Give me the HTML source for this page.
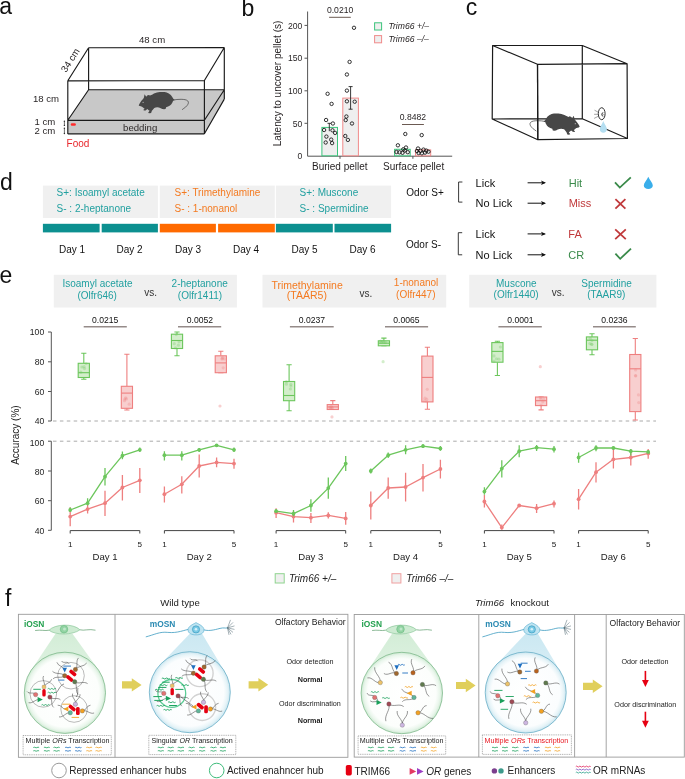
<!DOCTYPE html>
<html><head><meta charset="utf-8">
<style>
html,body{margin:0;padding:0;background:#fff;}
svg{display:block;font-family:"Liberation Sans",sans-serif;will-change:transform;}
text{font-family:"Liberation Sans",sans-serif;}
</style></head>
<body>
<svg width="685" height="779" viewBox="0 0 685 779">
<rect width="685" height="779" fill="#fff"/>

<!-- ============ PANEL A ============ -->
<g id="pa">
<text x="-0.7" y="14.4" font-size="23" fill="#111">a</text>
<g fill="#c8c8c8" stroke="none">
<polygon points="67.8,120.3 88.6,89.7 224.3,89.7 204.4,120.3"/>
<rect x="67.8" y="120.3" width="136.6" height="13.5"/>
<polygon points="204.4,120.3 224.3,89.7 224.3,99.1 204.4,133.8"/>
</g>
<g id="mouseA">
<path fill="#474747" d="M138.7,105.2 C139.4,103.6 140.4,102.2 141.4,100.8 C142.2,99.8 143,98.8 143.8,97.9 L144.6,94.3 L146.2,96.7 L147.2,95.5 L148.7,94.9 L150,95.6 C151,95.2 151.8,94.8 152.5,94.4 C154.5,93.2 156.5,92.6 158.4,92.3 C160,92 161.6,92 163,92.1 C165,92.2 166.6,92.5 167.7,93 C169.3,93.7 170.4,94.6 171.2,95.6 C172.2,96.8 172.8,97.8 173.1,98.6 L174.8,100 L173,100.8 C172.9,101.6 172.7,102.1 172.4,102.6 C171.8,103.8 171,104.8 170,105.5 C168.8,106.3 167.4,106.8 166.1,107.3 L165.6,109 L164,109.3 L162.4,109.1 L160.7,108.2 C159.5,107.7 158.4,107.3 157.2,107.3 C156.2,107.3 155.2,107.6 154.3,107.9 C153.4,108.9 152.6,109.9 151.9,110.8 L151.1,113.1 L149.6,113.3 L148.1,112.9 L149,111.5 L149.6,110.8 C148.8,110.2 148,109.6 147.3,109 L145.6,110.4 L144.2,110.6 L143.2,110 L144.6,108.8 C143.8,108 142.9,107.3 142,106.7 C141.2,106.5 140.4,106.3 139.7,106.1 C139.2,105.9 138.9,105.6 138.7,105.2 Z"/>
<path fill="none" stroke="#474747" stroke-width="0.75" d="M172.4,100.2 C175.5,99.6 178.5,99.2 181.1,99.3 C184,99.4 186.5,99.6 187.8,101 C189.2,102.6 188,104.8 185.7,107 C184.4,108.1 183,108.8 182.1,109.7"/>
<circle cx="143.1" cy="102.3" r="0.6" fill="#bbb"/>
</g>
<g stroke="#1a1a1a" stroke-width="1.15" fill="none" stroke-linejoin="round">
<path d="M88.6,47.8 L224.3,47.5 M67.8,80.8 L204.4,80.5 M67.8,80.8 L88.6,47.8 M204.4,80.5 L224.3,47.5 M88.6,47.8 V89.7 M224.3,47.5 V99.1 M67.8,80.8 V133.9 M204.4,80.5 V133.9 M67.8,120.3 H204.4 M67.8,120.3 L88.6,89.7 M88.6,89.7 H224.3 M204.4,120.3 L224.3,89.7 M67.8,133.8 H204.4 M204.4,133.8 L224.3,99.1"/>
</g>
<g font-size="9.6" fill="#231f20">
<text x="152.1" y="42.9" text-anchor="middle">48 cm</text>
<text transform="translate(70.2,60.2) rotate(-57.5)" x="0" y="3.4" text-anchor="middle">34 cm</text>
<text x="32.9" y="101.6">18 cm</text>
<text x="34.4" y="125.2">1 cm</text>
<text x="34.5" y="134.4">2 cm</text>
</g>
<path d="M64.4,121 V125.6 M64.4,128 V133.8" stroke="#333" stroke-width="0.7"/><g fill="#333"><circle cx="64.4" cy="121.2" r="0.7"/><circle cx="64.4" cy="125.4" r="0.7"/><circle cx="64.4" cy="128.3" r="0.7"/><circle cx="64.4" cy="133.5" r="0.7"/></g>
<path d="M72,124.6 H74.6" stroke="#ff2a2a" stroke-width="2.5" stroke-linecap="round"/>
<text x="66.6" y="147" font-size="10" fill="#e8262b">Food</text>
<text x="140.2" y="131.2" font-size="9.6" fill="#2e2a2a" text-anchor="middle">bedding</text>
</g>

<!-- ============ PANEL B ============ -->
<g id="pb">
<text x="241.5" y="16.4" font-size="23" fill="#111">b</text>
<g stroke="#555" stroke-width="1" fill="none">
<path d="M307.6,11.5 V156.2 H452.2"/>
<path d="M304.5,25.4 H307.6 M304.5,58.2 H307.6 M304.5,90.8 H307.6 M304.5,123.3 H307.6 M340,156.2 V158.8 M412.9,156.2 V158.8"/>
</g>
<g font-size="8.6" fill="#231f20" text-anchor="end">
<text x="302.3" y="28.6">200</text>
<text x="302.3" y="61.4">150</text>
<text x="302.3" y="94">100</text>
<text x="302.3" y="126.5">50</text>
<text x="302.3" y="159">0</text>
</g>
<text transform="translate(281.2,83.5) rotate(-90)" x="0" y="0" font-size="10" text-anchor="middle" fill="#231f20">Latency to uncover pellet (s)</text>
<g stroke-width="1" fill="#efefef">
<rect x="321.9" y="127.4" width="15.6" height="28.4" stroke="#3cc47c"/>
<rect x="342.8" y="98.1" width="15.6" height="57.7" stroke="#f08a8a"/>
<rect x="394.6" y="149.3" width="15.6" height="6.5" stroke="#3cc47c"/>
<rect x="415.5" y="149.9" width="15.2" height="5.9" stroke="#f08a8a"/>
</g>
<g stroke="#222" stroke-width="0.9" fill="none">
<path d="M329.3,123.3 V131.2 M327.5,123.3 H331.1"/>
<path d="M350.6,86.6 V109.2 M348.6,86.6 H352.6 M348.6,109.2 H352.6"/>
</g>
<g stroke="#111" stroke-width="0.85" fill="none">
<circle cx="327.6" cy="93.8" r="1.7"/><circle cx="331.6" cy="103.9" r="1.7"/><circle cx="326.1" cy="120" r="1.7"/><circle cx="332.9" cy="123.5" r="1.7"/><circle cx="324.1" cy="130" r="1.7"/><circle cx="332.5" cy="130.3" r="1.7"/><circle cx="335.1" cy="132.9" r="1.7"/><circle cx="326.4" cy="136.6" r="1.7"/><circle cx="331.2" cy="139.6" r="1.7"/><circle cx="325.7" cy="142.5" r="1.7"/><circle cx="332.1" cy="143.1" r="1.7"/>
<circle cx="354" cy="27.8" r="1.7"/><circle cx="349.6" cy="61.9" r="1.7"/><circle cx="346.9" cy="74.5" r="1.7"/><circle cx="346.9" cy="90.6" r="1.7"/><circle cx="346.9" cy="101.3" r="1.7"/><circle cx="354.7" cy="101.7" r="1.7"/><circle cx="346.4" cy="116.5" r="1.7"/><circle cx="345.7" cy="120.1" r="1.7"/><circle cx="352" cy="123.5" r="1.7"/><circle cx="345.3" cy="136" r="1.7"/><circle cx="347.9" cy="139.9" r="1.7"/>
<circle cx="405.3" cy="134" r="1.7"/><circle cx="397.9" cy="145.3" r="1.7"/><circle cx="406" cy="147.5" r="1.7"/><circle cx="396.5" cy="152" r="1.7"/><circle cx="399.5" cy="152.3" r="1.7"/><circle cx="402.5" cy="152.8" r="1.7"/><circle cx="404.8" cy="150.5" r="1.7"/><circle cx="407.8" cy="152.2" r="1.7"/><circle cx="403.3" cy="149.3" r="1.7"/>
<circle cx="421.7" cy="135.1" r="1.7"/><circle cx="418" cy="148.5" r="1.7"/><circle cx="420.5" cy="150.8" r="1.7"/><circle cx="423.5" cy="149.6" r="1.7"/><circle cx="426.3" cy="150.6" r="1.7"/><circle cx="418.6" cy="153" r="1.7"/><circle cx="421.9" cy="153.3" r="1.7"/><circle cx="425" cy="152.6" r="1.7"/><circle cx="428.5" cy="151.7" r="1.7"/><circle cx="416.9" cy="151" r="1.7"/>
</g>
<g font-size="8.6" fill="#231f20" text-anchor="middle">
<text x="340.1" y="13.3">0.0210</text>
<text x="413" y="119.9">0.8482</text>
</g>
<path d="M329.1,17.3 H350.8 M402,124.5 H423.9" stroke="#6b5a52" stroke-width="1"/>
<rect x="374.6" y="22.8" width="7" height="7.2" fill="#efefef" stroke="#3cc47c" stroke-width="1"/>
<rect x="374.6" y="35.6" width="7" height="7.2" fill="#efefef" stroke="#f08a8a" stroke-width="1"/>
<g font-size="8.6" fill="#231f20" font-style="italic">
<text x="388.4" y="29.3">Trim66 +/–</text>
<text x="388.4" y="42.2">Trim66 –/–</text>
</g>
<g font-size="10" fill="#231f20" text-anchor="middle">
<text x="339.8" y="169.6">Buried pellet</text>
<text x="413.6" y="169.6">Surface pellet</text>
</g>
</g>

<!-- ============ PANEL C ============ -->
<g id="pc">
<text x="465.8" y="14.5" font-size="23" fill="#111">c</text>
<g stroke="#1a1a1a" stroke-width="1.2" fill="none" stroke-linejoin="round">
<path d="M492.6,45.5 L582.3,45.5 L627.1,63.7 L537.5,64.3 Z M492.6,45.5 L492.2,119 L537.8,139.7 L627.4,138.5 L627.1,63.7 M537.5,64.3 L537.8,139.7 M582.3,45.5 L582.3,118.7 L627.4,138.5 M492.2,119 L582.3,118.7"/>
</g>
<use href="#mouseA" transform="translate(718.4,21.4) scale(-1,1)"/>
<path d="M537.5,64.3 L537.8,139.7" stroke="#1a1a1a" stroke-width="1.2"/>

<ellipse cx="601.7" cy="113.7" rx="3.4" ry="6" fill="#fff" stroke="#111" stroke-width="0.85"/>
<path d="M603.3,112.7 A1.5,1.7 0 1 0 603.3,116.2" fill="none" stroke="#111" stroke-width="0.8"/>
<path d="M601.9,114.5 H605" stroke="#888" stroke-width="0.6"/>
<path d="M594.5,110.2 L598,112.1 M594.1,114.3 L598,114.3 M594.1,118.4 L598,116.4" stroke="#333" stroke-width="0.45"/>
<path d="M603.3,121 C604.6,124.4 606.9,126.8 606.9,129.3 C606.9,131.5 605.3,132.8 603.3,132.8 C601.3,132.8 599.8,131.5 599.8,129.3 C599.8,126.8 602,124.4 603.3,121 Z" fill="#b4def1"/>
</g>

<!-- ============ PANEL D ============ -->
<g id="pd">
<text x="-0.1" y="189.9" font-size="23" fill="#111">d</text>
<g fill="#f0f0f0">
<rect x="42.9" y="185.6" width="115" height="32.4"/>
<rect x="159.8" y="185.6" width="115" height="32.4"/>
<rect x="275.9" y="185.6" width="115.2" height="32.4"/>
</g>
<g>
<rect x="42.9" y="223.8" width="56.7" height="8.6" fill="#0c9090"/>
<rect x="101.7" y="223.8" width="56.2" height="8.6" fill="#0c9090"/>
<rect x="159.8" y="223.8" width="56.1" height="8.6" fill="#ff6a00"/>
<rect x="218.1" y="223.8" width="56.7" height="8.6" fill="#ff6a00"/>
<rect x="275.9" y="223.8" width="56.9" height="8.6" fill="#0c9090"/>
<rect x="334.5" y="223.8" width="56.6" height="8.6" fill="#0c9090"/>
</g>
<g font-size="10">
<text x="56.6" y="195.8" fill="#22a0a0">S+: Isoamyl acetate</text>
<text x="56.6" y="211.8" fill="#22a0a0">S- : 2-heptanone</text>
<text x="174.5" y="195.8" fill="#f47a20">S+: Trimethylamine</text>
<text x="174.5" y="211.8" fill="#f47a20">S- : 1-nonanol</text>
<text x="299.6" y="195.8" fill="#22a0a0">S+: Muscone</text>
<text x="299.6" y="211.8" fill="#22a0a0">S- : Spermidine</text>
</g>
<g font-size="10" fill="#111" text-anchor="middle">
<text x="72" y="252.5">Day 1</text>
<text x="129.5" y="252.5">Day 2</text>
<text x="188.1" y="252.5">Day 3</text>
<text x="246.1" y="252.5">Day 4</text>
<text x="304.5" y="252.5">Day 5</text>
<text x="362.5" y="252.5">Day 6</text>
</g>
<g font-size="10" fill="#111">
<text x="406.3" y="196">Odor S+</text>
<text x="406" y="248.2">Odor S-</text>
</g>
<path d="M462.4,182 H458.6 V202.1 H462.4 M462.2,232.7 H458.3 V254.8 H462.2" fill="none" stroke="#222" stroke-width="0.9"/>
<g font-size="11" fill="#111">
<text x="475.6" y="187">Lick</text>
<text x="475.6" y="207.2">No Lick</text>
<text x="475.6" y="238.4">Lick</text>
<text x="475.6" y="259.2">No Lick</text>
</g>
<g stroke="#111" stroke-width="1" fill="none">
<path d="M527.6,182.8 H544.6 M527.6,203.2 H544.6 M527.6,233.9 H544.6 M527.6,254.8 H544.6"/>
</g>
<g fill="#111">
<path d="M546,182.8 L541,180.6 L542.2,182.8 L541,185 Z"/>
<path d="M546,203.2 L541,201 L542.2,203.2 L541,205.4 Z"/>
<path d="M546,233.9 L541,231.7 L542.2,233.9 L541,236.1 Z"/>
<path d="M546,254.8 L541,252.6 L542.2,254.8 L541,257 Z"/>
</g>
<g font-size="11">
<text x="568.7" y="187" fill="#3a8a4a">Hit</text>
<text x="568.7" y="207.2" fill="#c0393b">Miss</text>
<text x="568.3" y="238.4" fill="#c0393b">FA</text>
<text x="568.3" y="259.2" fill="#3a8a4a">CR</text>
</g>
<g fill="none" stroke-width="1.8" stroke-linecap="butt">
<path d="M615,182.4 L619.8,187.6 L630.8,177.4" stroke="#3a8a4a"/>
<path d="M615.4,253.6 L620.2,258.8 L631,248.6" stroke="#3a8a4a"/>
<path d="M615.4,199.2 L625.4,208.6 M625.4,199.2 L615.4,208.6" stroke="#c0393b"/>
<path d="M615.2,229.4 L625.8,239.2 M625.8,229.4 L615.2,239.2" stroke="#c0393b"/>
</g>
<path d="M648.3,176.8 C649.8,180.2 652.8,183 652.8,185.4 C652.8,187.6 650.8,188.9 648.3,188.9 C645.8,188.9 643.8,187.6 643.8,185.4 C643.8,183 646.8,180.2 648.3,176.8 Z" fill="#3aaeea"/>
</g>

<!-- ============ PANEL E ============ -->
<g id="pe">
<text x="-0.6" y="282.7" font-size="23" fill="#111">e</text>
<g fill="#f0f0f0"><rect x="53.8" y="274.8" width="183.1" height="32.7"/><rect x="262.5" y="274.8" width="183.7" height="32.7"/><rect x="469.2" y="274.8" width="187.2" height="32.7"/></g>
<g font-size="10" text-anchor="middle">
<text x="97.5" y="287" fill="#22a0a0">Isoamyl acetate</text>
<text x="97.2" y="298.8" fill="#22a0a0">(Olfr646)</text>
<text x="199.7" y="287" fill="#22a0a0">2-heptanone</text>
<text x="200" y="298.8" fill="#22a0a0">(Olfr1411)</text>
<text x="416.1" y="286.4" fill="#f47a20">1-nonanol</text>
<text x="415.8" y="297.9" fill="#f47a20">(Olfr447)</text>
<text x="516.3" y="286.7" fill="#22a0a0">Muscone</text>
<text x="516.1" y="298.1" fill="#22a0a0">(Olfr1440)</text>
<text x="606.6" y="286.7" fill="#22a0a0">Spermidine</text>
<text x="606.3" y="298.1" fill="#22a0a0">(TAAR9)</text>
<text x="307.1" y="288.5" fill="#f47a20" font-size="10.5">Trimethylamine</text>
<text x="306.9" y="299.3" fill="#f47a20" font-size="10.5">(TAAR5)</text>
<text x="150.6" y="295.7" fill="#333">vs.</text>
<text x="366" y="296.9" fill="#333">vs.</text>
<text x="558.2" y="295.9" fill="#333">vs.</text>
</g>
<g font-size="8.6" fill="#111" text-anchor="middle">
<text x="105.2" y="322.9">0.0215</text>
<text x="200" y="322.9">0.0052</text>
<text x="311.9" y="322.9">0.0237</text>
<text x="406.4" y="322.9">0.0065</text>
<text x="520.5" y="322.9">0.0001</text>
<text x="614.4" y="322.9">0.0236</text>
</g>
<path d="M83.7,326.8 H126.8 M178,326.8 H221.2 M289.9,326.8 H333.7 M385,326.8 H428.1 M498.4,326.8 H541.8 M593,326.8 H635.8" stroke="#958b89" stroke-width="1.4"/>
<g stroke="#555" stroke-width="1" fill="none">
<path d="M51.3,332 V421 M48,332 H51.3 M48,361.8 H51.3 M48,391.5 H51.3 M48,421 H51.3"/>
<path d="M51.3,441.2 V530.3 M48,441.2 H51.3 M48,471 H51.3 M48,500.7 H51.3 M48,530.3 H51.3"/>
</g>
<path d="M53,421 H656 M53,441.2 H656" stroke="#aaa" stroke-width="1" stroke-dasharray="3.5,3.4"/>
<g font-size="8.6" fill="#222" text-anchor="end">
<text x="44.2" y="335.1">100</text>
<text x="44.2" y="364.9">80</text>
<text x="44.2" y="394.6">60</text>
<text x="44.2" y="424.1">40</text>
<text x="44.2" y="446.3">100</text>
<text x="44.2" y="474.7">80</text>
<text x="44.2" y="504.3">60</text>
<text x="44.2" y="533.7">40</text>
</g>
<text transform="translate(18.6,435.1) rotate(-90)" x="0" y="0" font-size="10" text-anchor="middle" fill="#222">Accuracy (%)</text>
<g stroke="#6cc65c" stroke-width="1.1" fill="none">
<path d="M83.8,353.3 V363.3 M83.8,377.5 V379.3 M81.2,353.3 H86.4 M81.2,379.3 H86.4"/>
<rect x="78.2" y="363.3" width="11.2" height="14.2" fill="#d3eecb"/>
<path d="M78.2,372.7 H89.4"/>
</g>
<circle cx="84.1" cy="366.7" r="1.6" fill="#6cc65c" opacity="0.28"/>
<circle cx="84.5" cy="368.6" r="1.6" fill="#6cc65c" opacity="0.28"/>
<circle cx="80.8" cy="372.2" r="1.6" fill="#6cc65c" opacity="0.28"/>
<circle cx="86.2" cy="363.5" r="1.6" fill="#6cc65c" opacity="0.28"/>
<circle cx="81.9" cy="367.0" r="1.6" fill="#6cc65c" opacity="0.28"/>
<g stroke="#ee7f7f" stroke-width="1.1" fill="none">
<path d="M126.9,354.3 V386.3 M126.9,408.3 V410 M124.3,354.3 H129.5 M124.3,410 H129.5"/>
<rect x="121.3" y="386.3" width="11.2" height="22.0" fill="#f8cfcf"/>
<path d="M121.3,393.1 H132.5"/>
</g>
<circle cx="126.4" cy="398.9" r="1.6" fill="#ee7f7f" opacity="0.28"/>
<circle cx="124.8" cy="399.0" r="1.6" fill="#ee7f7f" opacity="0.28"/>
<circle cx="129.2" cy="404.2" r="1.6" fill="#ee7f7f" opacity="0.28"/>
<circle cx="124.5" cy="400.7" r="1.6" fill="#ee7f7f" opacity="0.28"/>
<circle cx="125.7" cy="397.8" r="1.6" fill="#ee7f7f" opacity="0.28"/>
<g stroke="#6cc65c" stroke-width="1.1" fill="none">
<path d="M177,332 V334.2 M177,348.5 V355.8 M174.4,332 H179.6 M174.4,355.8 H179.6"/>
<rect x="171.4" y="334.2" width="11.2" height="14.3" fill="#d3eecb"/>
<path d="M171.4,340.5 H182.6"/>
</g>
<circle cx="179.1" cy="341.7" r="1.6" fill="#6cc65c" opacity="0.28"/>
<circle cx="175.5" cy="347.9" r="1.6" fill="#6cc65c" opacity="0.28"/>
<circle cx="178.4" cy="345.2" r="1.6" fill="#6cc65c" opacity="0.28"/>
<circle cx="174.3" cy="343.7" r="1.6" fill="#6cc65c" opacity="0.28"/>
<circle cx="176.2" cy="334.6" r="1.6" fill="#6cc65c" opacity="0.28"/>
<g stroke="#ee7f7f" stroke-width="1.1" fill="none">
<path d="M220.8,351.3 V355.8 M220.8,372.7 V372.7 M218.2,351.3 H223.4 M218.2,372.7 H223.4"/>
<rect x="215.2" y="355.8" width="11.2" height="16.9" fill="#f8cfcf"/>
<path d="M215.2,362.9 H226.4"/>
</g>
<circle cx="223.2" cy="367.8" r="1.6" fill="#ee7f7f" opacity="0.28"/>
<circle cx="224.3" cy="358.9" r="1.6" fill="#ee7f7f" opacity="0.28"/>
<circle cx="222.0" cy="359.1" r="1.6" fill="#ee7f7f" opacity="0.28"/>
<circle cx="222.6" cy="357.4" r="1.6" fill="#ee7f7f" opacity="0.28"/>
<circle cx="222.2" cy="358.4" r="1.6" fill="#ee7f7f" opacity="0.28"/>
<circle cx="220.0" cy="406" r="1.6" fill="#f8cfcf"/>
<g stroke="#6cc65c" stroke-width="1.1" fill="none">
<path d="M289.1,364.8 V381.5 M289.1,400.7 V410.7 M286.5,364.8 H291.7 M286.5,410.7 H291.7"/>
<rect x="283.5" y="381.5" width="11.2" height="19.2" fill="#d3eecb"/>
<path d="M283.5,395.5 H294.7"/>
</g>
<circle cx="286.4" cy="381.7" r="1.6" fill="#6cc65c" opacity="0.28"/>
<circle cx="290.4" cy="389.0" r="1.6" fill="#6cc65c" opacity="0.28"/>
<circle cx="286.4" cy="384.2" r="1.6" fill="#6cc65c" opacity="0.28"/>
<circle cx="290.9" cy="386.0" r="1.6" fill="#6cc65c" opacity="0.28"/>
<circle cx="290.8" cy="384.3" r="1.6" fill="#6cc65c" opacity="0.28"/>
<g stroke="#ee7f7f" stroke-width="1.1" fill="none">
<path d="M332.8,400.6 V404.6 M332.8,409.5 V409.5 M330.2,400.6 H335.4 M330.2,409.5 H335.4"/>
<rect x="327.2" y="404.6" width="11.2" height="4.9" fill="#f8cfcf"/>
<path d="M327.2,406.9 H338.4"/>
</g>
<circle cx="332.3" cy="407.7" r="1.6" fill="#ee7f7f" opacity="0.28"/>
<circle cx="329.8" cy="408.1" r="1.6" fill="#ee7f7f" opacity="0.28"/>
<circle cx="331.9" cy="408.0" r="1.6" fill="#ee7f7f" opacity="0.28"/>
<circle cx="330.5" cy="407.6" r="1.6" fill="#ee7f7f" opacity="0.28"/>
<circle cx="331.2" cy="406.3" r="1.6" fill="#ee7f7f" opacity="0.28"/>
<circle cx="332.0" cy="416.9" r="1.6" fill="#f8cfcf"/>
<g stroke="#6cc65c" stroke-width="1.1" fill="none">
<path d="M383.9,338.1 V340.8 M383.9,345.8 V345.8 M381.3,338.1 H386.5 M381.3,345.8 H386.5"/>
<rect x="378.3" y="340.8" width="11.2" height="5.0" fill="#d3eecb"/>
<path d="M378.3,343.2 H389.5"/>
</g>
<circle cx="383.8" cy="342.2" r="1.6" fill="#6cc65c" opacity="0.28"/>
<circle cx="382.8" cy="341.2" r="1.6" fill="#6cc65c" opacity="0.28"/>
<circle cx="380.5" cy="341.2" r="1.6" fill="#6cc65c" opacity="0.28"/>
<circle cx="381.2" cy="342.2" r="1.6" fill="#6cc65c" opacity="0.28"/>
<circle cx="385.6" cy="342.4" r="1.6" fill="#6cc65c" opacity="0.28"/>
<circle cx="383.1" cy="361.7" r="1.6" fill="#d3eecb"/>
<g stroke="#ee7f7f" stroke-width="1.1" fill="none">
<path d="M427.4,347.3 V356.1 M427.4,401.9 V409.2 M424.8,347.3 H430.0 M424.8,409.2 H430.0"/>
<rect x="421.8" y="356.1" width="11.2" height="45.8" fill="#f8cfcf"/>
<path d="M421.8,377.4 H433.0"/>
</g>
<circle cx="424.3" cy="400.9" r="1.6" fill="#ee7f7f" opacity="0.28"/>
<circle cx="427.3" cy="389.3" r="1.6" fill="#ee7f7f" opacity="0.28"/>
<circle cx="426.7" cy="399.2" r="1.6" fill="#ee7f7f" opacity="0.28"/>
<circle cx="425.0" cy="398.2" r="1.6" fill="#ee7f7f" opacity="0.28"/>
<circle cx="426.8" cy="401.7" r="1.6" fill="#ee7f7f" opacity="0.28"/>
<g stroke="#6cc65c" stroke-width="1.1" fill="none">
<path d="M497.4,341.3 V342.6 M497.4,362.2 V375.5 M494.8,341.3 H500.0 M494.8,375.5 H500.0"/>
<rect x="491.8" y="342.6" width="11.2" height="19.6" fill="#d3eecb"/>
<path d="M491.8,351.4 H503.0"/>
</g>
<circle cx="500.4" cy="347.0" r="1.6" fill="#6cc65c" opacity="0.28"/>
<circle cx="494.1" cy="361.1" r="1.6" fill="#6cc65c" opacity="0.28"/>
<circle cx="498.9" cy="359.2" r="1.6" fill="#6cc65c" opacity="0.28"/>
<circle cx="494.0" cy="355.9" r="1.6" fill="#6cc65c" opacity="0.28"/>
<circle cx="496.5" cy="358.8" r="1.6" fill="#6cc65c" opacity="0.28"/>
<g stroke="#ee7f7f" stroke-width="1.1" fill="none">
<path d="M541.1,397 V397 M541.1,405.6 V409.9 M538.5,397 H543.7 M538.5,409.9 H543.7"/>
<rect x="535.5" y="397" width="11.2" height="8.6" fill="#f8cfcf"/>
<path d="M535.5,400.7 H546.7"/>
</g>
<circle cx="540.6" cy="397.6" r="1.6" fill="#ee7f7f" opacity="0.28"/>
<circle cx="540.7" cy="399.1" r="1.6" fill="#ee7f7f" opacity="0.28"/>
<circle cx="543.6" cy="399.2" r="1.6" fill="#ee7f7f" opacity="0.28"/>
<circle cx="542.8" cy="401.8" r="1.6" fill="#ee7f7f" opacity="0.28"/>
<circle cx="541.1" cy="405.0" r="1.6" fill="#ee7f7f" opacity="0.28"/>
<circle cx="540.3" cy="366.7" r="1.6" fill="#f8cfcf"/>
<g stroke="#6cc65c" stroke-width="1.1" fill="none">
<path d="M592,333.8 V336.9 M592,349.8 V354.8 M589.4,333.8 H594.6 M589.4,354.8 H594.6"/>
<rect x="586.4" y="336.9" width="11.2" height="12.9" fill="#d3eecb"/>
<path d="M586.4,340.2 H597.6"/>
</g>
<circle cx="592.0" cy="340.5" r="1.6" fill="#6cc65c" opacity="0.28"/>
<circle cx="591.7" cy="344.2" r="1.6" fill="#6cc65c" opacity="0.28"/>
<circle cx="591.9" cy="344.5" r="1.6" fill="#6cc65c" opacity="0.28"/>
<circle cx="589.9" cy="343.6" r="1.6" fill="#6cc65c" opacity="0.28"/>
<circle cx="590.3" cy="338.3" r="1.6" fill="#6cc65c" opacity="0.28"/>
<g stroke="#ee7f7f" stroke-width="1.1" fill="none">
<path d="M635.3,338.5 V354.5 M635.3,411.6 V420 M632.7,338.5 H637.9 M632.7,420 H637.9"/>
<rect x="629.7" y="354.5" width="11.2" height="57.1" fill="#f8cfcf"/>
<path d="M629.7,368.8 H640.9"/>
</g>
<circle cx="635.6" cy="370.0" r="1.6" fill="#ee7f7f" opacity="0.28"/>
<circle cx="638.5" cy="394.9" r="1.6" fill="#ee7f7f" opacity="0.28"/>
<circle cx="635.5" cy="375.6" r="1.6" fill="#ee7f7f" opacity="0.28"/>
<circle cx="635.7" cy="375.9" r="1.6" fill="#ee7f7f" opacity="0.28"/>
<circle cx="638.7" cy="402.6" r="1.6" fill="#ee7f7f" opacity="0.28"/>
<g stroke="#ee7f7f" stroke-width="1.3" fill="none" stroke-linejoin="round">
<polyline points="70.2,516.6 87.6,509.1 105.0,503.2 122.4,487.5 139.8,480.3"/>
<path d="M70.2,507.3 V526.2 M87.6,505.1 V513.6 M105.0,490.7 V515.9 M122.4,474.9 V500.5 M139.8,468.1 V492.9"/>
</g>
<g fill="#ee7f7f"><circle cx="70.2" cy="516.6" r="1.9"/><circle cx="87.6" cy="509.1" r="1.9"/><circle cx="105.0" cy="503.2" r="1.9"/><circle cx="122.4" cy="487.5" r="1.9"/><circle cx="139.8" cy="480.3" r="1.9"/></g>
<g stroke="#6cc65c" stroke-width="1.3" fill="none" stroke-linejoin="round">
<polyline points="70.2,510 87.6,503.2 105.0,476.7 122.4,455.7 139.8,449.8"/>
<path d="M70.2,507.5 V512 M87.6,498.3 V505.5 M105.0,468.1 V485.4 M122.4,451.6 V459.3 M139.8,447.6 V451.9"/>
</g>
<g fill="#6cc65c"><circle cx="70.2" cy="510" r="1.9"/><circle cx="87.6" cy="503.2" r="1.9"/><circle cx="105.0" cy="476.7" r="1.9"/><circle cx="122.4" cy="455.7" r="1.9"/><circle cx="139.8" cy="449.8" r="1.9"/></g>
<path d="M70.2,533.5 V530.6 H139.8 V533.5" stroke="#444" stroke-width="1" fill="none"/>
<g font-size="8.1" fill="#222" text-anchor="middle"><text x="70.2" y="546.6">1</text><text x="139.8" y="546.6">5</text></g>
<text x="105.0" y="560" font-size="9.6" fill="#222" text-anchor="middle">Day 1</text>
<g stroke="#ee7f7f" stroke-width="1.3" fill="none" stroke-linejoin="round">
<polyline points="164.4,494.2 181.8,484.3 199.2,466 216.6,462.4 234.0,463.6"/>
<path d="M164.4,486.6 V502.5 M181.8,476.2 V493.5 M199.2,454.6 V477.6 M216.6,457.5 V467.2 M234.0,458.8 V468.7"/>
</g>
<g fill="#ee7f7f"><circle cx="164.4" cy="494.2" r="1.9"/><circle cx="181.8" cy="484.3" r="1.9"/><circle cx="199.2" cy="466" r="1.9"/><circle cx="216.6" cy="462.4" r="1.9"/><circle cx="234.0" cy="463.6" r="1.9"/></g>
<g stroke="#6cc65c" stroke-width="1.3" fill="none" stroke-linejoin="round">
<polyline points="164.4,455.2 181.8,455.2 199.2,449.8 216.6,445.3 234.0,449.8"/>
<path d="M164.4,451.2 V460.6 M181.8,451.2 V460.6 M199.2,448 V452 M216.6,444 V447 M234.0,447.6 V451.9"/>
</g>
<g fill="#6cc65c"><circle cx="164.4" cy="455.2" r="1.9"/><circle cx="181.8" cy="455.2" r="1.9"/><circle cx="199.2" cy="449.8" r="1.9"/><circle cx="216.6" cy="445.3" r="1.9"/><circle cx="234.0" cy="449.8" r="1.9"/></g>
<path d="M164.4,533.5 V530.6 H234.0 V533.5" stroke="#444" stroke-width="1" fill="none"/>
<g font-size="8.1" fill="#222" text-anchor="middle"><text x="164.4" y="546.6">1</text><text x="234.0" y="546.6">5</text></g>
<text x="199.2" y="560" font-size="9.6" fill="#222" text-anchor="middle">Day 2</text>
<g stroke="#ee7f7f" stroke-width="1.3" fill="none" stroke-linejoin="round">
<polyline points="276.1,512.7 293.5,516.6 310.9,517.7 328.3,515.4 345.7,518.4"/>
<path d="M276.1,508.2 V518.1 M293.5,510.9 V522.6 M310.9,513 V523.1 M328.3,512.3 V518.4 M345.7,512.1 V524.7"/>
</g>
<g fill="#ee7f7f"><circle cx="276.1" cy="512.7" r="1.9"/><circle cx="293.5" cy="516.6" r="1.9"/><circle cx="310.9" cy="517.7" r="1.9"/><circle cx="328.3" cy="515.4" r="1.9"/><circle cx="345.7" cy="518.4" r="1.9"/></g>
<g stroke="#6cc65c" stroke-width="1.3" fill="none" stroke-linejoin="round">
<polyline points="276.1,511.2 293.5,513.6 310.9,505.5 328.3,488.1 345.7,463.6"/>
<path d="M276.1,509 V513 M293.5,510 V516.3 M310.9,499.2 V511.8 M328.3,477.6 V498.7 M345.7,456.1 V471"/>
</g>
<g fill="#6cc65c"><circle cx="276.1" cy="511.2" r="1.9"/><circle cx="293.5" cy="513.6" r="1.9"/><circle cx="310.9" cy="505.5" r="1.9"/><circle cx="328.3" cy="488.1" r="1.9"/><circle cx="345.7" cy="463.6" r="1.9"/></g>
<path d="M276.1,533.5 V530.6 H345.7 V533.5" stroke="#444" stroke-width="1" fill="none"/>
<g font-size="8.1" fill="#222" text-anchor="middle"><text x="276.1" y="546.6">1</text><text x="345.7" y="546.6">5</text></g>
<text x="310.9" y="560" font-size="9.6" fill="#222" text-anchor="middle">Day 3</text>
<g stroke="#ee7f7f" stroke-width="1.3" fill="none" stroke-linejoin="round">
<polyline points="370.8,505.5 388.2,488 405.6,487 423.0,477.6 440.4,469"/>
<path d="M370.8,491.5 V519.5 M388.2,477.6 V498.7 M405.6,472.8 V501.5 M423.0,464.1 V491.5 M440.4,459.7 V478.5"/>
</g>
<g fill="#ee7f7f"><circle cx="370.8" cy="505.5" r="1.9"/><circle cx="388.2" cy="488" r="1.9"/><circle cx="405.6" cy="487" r="1.9"/><circle cx="423.0" cy="477.6" r="1.9"/><circle cx="440.4" cy="469" r="1.9"/></g>
<g stroke="#6cc65c" stroke-width="1.3" fill="none" stroke-linejoin="round">
<polyline points="370.8,471 388.2,455.2 405.6,449.8 423.0,446.2 440.4,448.5"/>
<path d="M370.8,468.6 V473.5 M388.2,452.5 V458 M405.6,445.3 V454.3 M423.0,444 V448 M440.4,446 V450.8"/>
</g>
<g fill="#6cc65c"><circle cx="370.8" cy="471" r="1.9"/><circle cx="388.2" cy="455.2" r="1.9"/><circle cx="405.6" cy="449.8" r="1.9"/><circle cx="423.0" cy="446.2" r="1.9"/><circle cx="440.4" cy="448.5" r="1.9"/></g>
<path d="M370.8,533.5 V530.6 H440.4 V533.5" stroke="#444" stroke-width="1" fill="none"/>
<g font-size="8.1" fill="#222" text-anchor="middle"><text x="370.8" y="546.6">1</text><text x="440.4" y="546.6">5</text></g>
<text x="405.6" y="560" font-size="9.6" fill="#222" text-anchor="middle">Day 4</text>
<g stroke="#ee7f7f" stroke-width="1.3" fill="none" stroke-linejoin="round">
<polyline points="484.4,501.5 501.8,527.6 519.2,505.5 536.6,508.2 554.0,503.7"/>
<path d="M484.4,495.1 V507.6 M501.8,524.4 V529.7 M519.2,504 V507 M536.6,504 V513 M554.0,500.5 V507.6"/>
</g>
<g fill="#ee7f7f"><circle cx="484.4" cy="501.5" r="1.9"/><circle cx="501.8" cy="527.6" r="1.9"/><circle cx="519.2" cy="505.5" r="1.9"/><circle cx="536.6" cy="508.2" r="1.9"/><circle cx="554.0" cy="503.7" r="1.9"/></g>
<g stroke="#6cc65c" stroke-width="1.3" fill="none" stroke-linejoin="round">
<polyline points="484.4,491.6 501.8,468.6 519.2,451.2 536.6,447.6 554.0,449.2"/>
<path d="M484.4,487.2 V494.7 M501.8,460.2 V477.6 M519.2,445.3 V457.3 M536.6,445 V451 M554.0,446 V452.5"/>
</g>
<g fill="#6cc65c"><circle cx="484.4" cy="491.6" r="1.9"/><circle cx="501.8" cy="468.6" r="1.9"/><circle cx="519.2" cy="451.2" r="1.9"/><circle cx="536.6" cy="447.6" r="1.9"/><circle cx="554.0" cy="449.2" r="1.9"/></g>
<path d="M484.4,533.5 V530.6 H554.0 V533.5" stroke="#444" stroke-width="1" fill="none"/>
<g font-size="8.1" fill="#222" text-anchor="middle"><text x="484.4" y="546.6">1</text><text x="554.0" y="546.6">5</text></g>
<text x="519.2" y="560" font-size="9.6" fill="#222" text-anchor="middle">Day 5</text>
<g stroke="#ee7f7f" stroke-width="1.3" fill="none" stroke-linejoin="round">
<polyline points="578.6,499.2 596.0,472.2 613.4,459.3 630.8,457.5 648.2,453.4"/>
<path d="M578.6,489 V509.6 M596.0,462.3 V482.5 M613.4,448.9 V468.6 M630.8,449.8 V465.6 M648.2,448.9 V458.8"/>
</g>
<g fill="#ee7f7f"><circle cx="578.6" cy="499.2" r="1.9"/><circle cx="596.0" cy="472.2" r="1.9"/><circle cx="613.4" cy="459.3" r="1.9"/><circle cx="630.8" cy="457.5" r="1.9"/><circle cx="648.2" cy="453.4" r="1.9"/></g>
<g stroke="#6cc65c" stroke-width="1.3" fill="none" stroke-linejoin="round">
<polyline points="578.6,457.5 596.0,448 613.4,448 630.8,451.2 648.2,451.9"/>
<path d="M578.6,452.6 V462.7 M596.0,445.3 V451.2 M613.4,446.5 V449.4 M630.8,449 V455.4 M648.2,450.7 V453.4"/>
</g>
<g fill="#6cc65c"><circle cx="578.6" cy="457.5" r="1.9"/><circle cx="596.0" cy="448" r="1.9"/><circle cx="613.4" cy="448" r="1.9"/><circle cx="630.8" cy="451.2" r="1.9"/><circle cx="648.2" cy="451.9" r="1.9"/></g>
<path d="M578.6,533.5 V530.6 H648.2 V533.5" stroke="#444" stroke-width="1" fill="none"/>
<g font-size="8.1" fill="#222" text-anchor="middle"><text x="578.6" y="546.6">1</text><text x="648.2" y="546.6">5</text></g>
<text x="613.4" y="560" font-size="9.6" fill="#222" text-anchor="middle">Day 6</text>
<rect x="275.2" y="573.7" width="9" height="9.3" fill="#efefef" stroke="#8fd48f" stroke-width="1"/>
<rect x="391.9" y="573.7" width="9" height="9.3" fill="#efefef" stroke="#f0a0a0" stroke-width="1"/>
<g font-size="10" font-style="italic" fill="#222"><text x="288.9" y="582.4">Trim66 +/–</text><text x="406.3" y="582.4">Trim66 –/–</text></g>
</g>
<!-- ============ PANEL F ============ -->
<g id="pf">
<defs>
<radialGradient id="gG" cx="50%" cy="50%" r="50%"><stop offset="0" stop-color="#ffffff"/><stop offset="0.84" stop-color="#fcfefc"/><stop offset="0.93" stop-color="#eaf6ec"/><stop offset="0.985" stop-color="#d3ecd7"/><stop offset="1" stop-color="#c4e5ca"/></radialGradient>
<radialGradient id="gB" cx="50%" cy="50%" r="50%"><stop offset="0" stop-color="#ffffff"/><stop offset="0.84" stop-color="#fbfdfe"/><stop offset="0.93" stop-color="#e7f4f8"/><stop offset="0.985" stop-color="#cfe8f1"/><stop offset="1" stop-color="#bfe0ec"/></radialGradient>
<linearGradient id="cG" x1="0" y1="0" x2="0" y2="1"><stop offset="0" stop-color="#d3edd7"/><stop offset="1" stop-color="#e6f5e8"/></linearGradient>
<linearGradient id="cB" x1="0" y1="0" x2="0" y2="1"><stop offset="0" stop-color="#cbe8f2"/><stop offset="1" stop-color="#dff1f7"/></linearGradient>
</defs>
<text x="5.1" y="606" font-size="23" fill="#111">f</text>
<text x="180" y="605.6" font-size="9.6" fill="#222" text-anchor="middle">Wild type</text>
<text x="475" y="605.6" font-size="9.6" fill="#222" font-style="italic">Trim66</text><text x="510.5" y="605.6" font-size="9.6" fill="#222">knockout</text>
<g fill="none" stroke="#9a9a9a" stroke-width="0.9">
<rect x="18.4" y="614.3" width="329.5" height="143"/><path d="M115,614.3 V757.3"/>
<rect x="354.2" y="614.5" width="330.1" height="142.6"/><path d="M478.8,614.5 V757.1 M574.6,614.5 V757.1 M606.2,614.5 V757.1"/>
</g>
<polygon points="55.5,633.8000000000001 72.5,633.8000000000001 97.9,669.1 64.9,692.8 31.1,670.2" fill="url(#cG)"/>
<path d="M49,630.2 C45,631.2 41,629.5 35.1,630.5 M80,629.8000000000001 C84,631.0 89,628.6 95.5,630.2" stroke="#5c9c6c" stroke-width="0.7" fill="none"/>
<path d="M49,630.2 C55,624.0 73,623.0 80,629.8000000000001 C73,635.2 55,635.4000000000001 49,630.2 Z" fill="#cdebd2" stroke="#80c190" stroke-width="0.6"/>
<circle cx="64" cy="629.2" r="3.8" fill="#92d3a3" stroke="#5fb477" stroke-width="0.5"/>
<circle cx="64.5" cy="628.9000000000001" r="1.5" fill="#bfe6c9"/>
<text x="23.9" y="627.2" font-size="8.4" font-weight="bold" fill="#22a04e">iOSN</text>
<circle cx="64.9" cy="692.8" r="40.6" fill="url(#gG)" stroke="#7fb98c" stroke-width="0.8"/>
<circle cx="71" cy="675.7" r="13.3" fill="none" stroke="#777" stroke-width="0.5"/>
<circle cx="43.3" cy="693.9" r="13.3" fill="none" stroke="#777" stroke-width="0.5"/>
<circle cx="74.1" cy="709" r="13.3" fill="none" stroke="#777" stroke-width="0.5"/>
<path d="M64.7,675.7 C61.4,672.2 55.8,674.8 52.5,671.3" stroke="#333" stroke-width="0.5" fill="none"/>
<path d="M64.7,675.7 C61.4,678.9 56.4,675.6 53.1,678.8" stroke="#333" stroke-width="0.5" fill="none"/>
<path d="M75.4,669.5 C78.6,666.2 75.3,661.2 78.5,657.9" stroke="#333" stroke-width="0.5" fill="none"/>
<path d="M75.4,669.5 C78.1,665.4 84.0,667.1 86.7,663.0" stroke="#333" stroke-width="0.5" fill="none"/>
<path d="M74.7,681.8 C78.7,684.6 83.6,680.8 87.6,683.6" stroke="#333" stroke-width="0.5" fill="none"/>
<path d="M74.7,681.8 C77.9,685.4 74.8,690.7 78.1,694.4" stroke="#333" stroke-width="0.5" fill="none"/>
<path d="M64.7,670.1 C63.7,666.0 58.0,666.5 56.9,662.3" stroke="#333" stroke-width="0.5" fill="none"/>
<path d="M69.0,663.7 C67.2,660.7 63.2,663.9 61.5,661.0" stroke="#333" stroke-width="0.5" fill="none"/>
<path d="M63.4,666.1 H71.0" stroke="#1f6fc0" stroke-width="0.9"/>
<path d="M58.4,680.1 H64.4" stroke="#1f6fc0" stroke-width="0.9"/>
<polygon points="62.4,667.8 67.0,667.8 64.7,672.4" fill="#1f6fc0"/>
<circle cx="75.4" cy="669.5" r="2.2" fill="#a0682e" stroke="#555" stroke-width="0.3"/>
<rect x="71.0" y="669.0" width="3.7" height="8" rx="1.5" fill="#e60012" transform="rotate(-50 72.8 673.0)"/>
<circle cx="64.7" cy="675.7" r="2.2" fill="#a0682e" stroke="#555" stroke-width="0.3"/>
<rect x="67.9" y="674.5" width="3.7" height="8" rx="1.5" fill="#e60012" transform="rotate(-50 69.7 678.5)"/>
<circle cx="74.7" cy="681.8" r="2.2" fill="#5f7a4e" stroke="#555" stroke-width="0.3"/>
<path d="M44.0,687.0 C46.1,683.3 41.5,679.7 43.6,676.0" stroke="#333" stroke-width="0.5" fill="none"/>
<path d="M44.0,687.0 C45.0,682.9 50.7,683.4 51.8,679.2" stroke="#333" stroke-width="0.5" fill="none"/>
<path d="M35.6,694.6 C33.5,691.5 29.2,694.6 27.1,691.5" stroke="#333" stroke-width="0.5" fill="none"/>
<path d="M49.9,697.1 C52.9,700.2 57.6,696.9 60.5,699.9" stroke="#333" stroke-width="0.5" fill="none"/>
<path d="M49.9,697.1 C53.2,699.8 50.3,704.7 53.7,707.4" stroke="#333" stroke-width="0.5" fill="none"/>
<path d="M40.2,699.6 C35.8,698.5 33.0,703.8 28.6,702.7" stroke="#333" stroke-width="0.5" fill="none"/>
<path d="M33.3,689.3 H40.8" stroke="#19a05a" stroke-width="0.9"/>
<path d="M47.7,688.9 L48.5,688.4 L50.2,689.4 L51.8,688.4 L53.4,689.4 L55.1,688.4 L55.9,688.9" stroke="#19a05a" stroke-width="0.8" fill="none"/>
<path d="M47.7,692.7 L48.5,692.2 L50.2,693.2 L51.8,692.2 L53.4,693.2 L55.1,692.2 L55.9,692.7" stroke="#19a05a" stroke-width="0.8" fill="none"/>
<path d="M41.5,705.0 L42.3,704.5 L43.9,705.5 L45.5,704.5 L47.2,705.5 L48.8,704.5 L49.6,705.0" stroke="#19a05a" stroke-width="0.8" fill="none"/>
<rect x="42.1" y="685.1" width="3.8" height="3.6" rx="1" fill="#ecc26a" stroke="#777" stroke-width="0.3"/>
<rect x="42.3" y="689.1" width="3.4" height="7.4" rx="1.6" fill="#e60012"/>
<circle cx="35.6" cy="694.6" r="2.2" fill="#e27272" stroke="#555" stroke-width="0.3"/>
<polygon points="37.6,697.0 37.6,702.2 42.8,699.6" fill="#19a05a"/>
<circle cx="49.9" cy="697.1" r="2.2" fill="#a04a55" stroke="#555" stroke-width="0.3"/>
<path d="M75.4,704.2 C76.6,700.1 71.4,697.7 72.6,693.6" stroke="#333" stroke-width="0.5" fill="none"/>
<path d="M75.4,704.2 C75.0,699.9 80.5,698.5 80.0,694.2" stroke="#333" stroke-width="0.5" fill="none"/>
<path d="M82.3,710.9 C86.3,710.8 86.5,705.3 90.5,705.2" stroke="#333" stroke-width="0.5" fill="none"/>
<path d="M82.3,710.9 C86.6,709.4 89.8,714.5 94.1,713.0" stroke="#333" stroke-width="0.5" fill="none"/>
<path d="M70.3,712.8 C65.8,712.1 63.5,717.6 59.0,716.9" stroke="#333" stroke-width="0.5" fill="none"/>
<path d="M65.9,709.0 C62.3,709.7 61.4,704.5 57.7,705.2" stroke="#333" stroke-width="0.5" fill="none"/>
<path d="M62.2,704.2 H70.3" stroke="#f2a122" stroke-width="0.9"/>
<path d="M71.6,717.4 H79.1" stroke="#f2a122" stroke-width="0.9"/>
<circle cx="75.4" cy="704.2" r="2.2" fill="#cdb6e2" stroke="#555" stroke-width="0.3"/>
<polygon points="68.4,706.5 68.4,711.5 63.4,709.0" fill="#f2a122"/>
<rect x="70.3" y="704.0" width="3.7" height="8" rx="1.5" fill="#e60012" transform="rotate(-50 72.2 708.0)"/>
<rect x="76.0" y="707.1" width="3.7" height="8" rx="1.5" fill="#e60012" transform="rotate(0 77.9 711.1)"/>
<circle cx="82.3" cy="710.9" r="2.2" fill="#f2a122" stroke="#555" stroke-width="0.3"/>
<circle cx="70.3" cy="712.8" r="2.2" fill="#5fb598" stroke="#555" stroke-width="0.3"/>
<path d="M56.0,693.0 c3,-3 4,-8 8,-9" stroke="#333" stroke-width="0.55" fill="none"/>
<path d="M78.0,688.0 c-1,3 1,6 -2,9" stroke="#333" stroke-width="0.55" fill="none"/>
<polygon points="190,633.4 202,633.4 224.6,671.5 189.8,692.2 160.5,664.2" fill="url(#cB)"/>
<path d="M145.8,636.9 C153.8,634.9 159.8,631.4 167.8,632.4 C177.8,633.4 184,629.9 191,628.9" stroke="#3d9cc0" stroke-width="0.8" fill="none"/>
<path d="M201,628.9 C208,631.9 214,629.9 220,628.4 C224,627.4 224.5,628.4 227.5,627.9" stroke="#3d9cc0" stroke-width="0.8" fill="none"/>
<path d="M227.5,627.9 L230.5,619.9" stroke="#3a5560" stroke-width="0.45"/>
<path d="M227.5,627.9 L233.0,622.4" stroke="#3a5560" stroke-width="0.45"/>
<path d="M227.5,627.9 L234.5,625.9" stroke="#3a5560" stroke-width="0.45"/>
<path d="M227.5,627.9 L234.5,629.4" stroke="#3a5560" stroke-width="0.45"/>
<path d="M227.5,627.9 L233.0,632.4" stroke="#3a5560" stroke-width="0.45"/>
<path d="M227.5,627.9 L231.0,634.4" stroke="#3a5560" stroke-width="0.45"/>
<path d="M227.5,627.9 L229.0,634.9" stroke="#3a5560" stroke-width="0.45"/>
<path d="M196,622.6 C199,624.3 204,626.3 204,629.9 C204,633.4 200,634.9 196,634.9 C192,634.9 188,633.4 188,629.9 C188,626.3 193,624.3 196,622.6 Z" fill="#bfe4f1" stroke="#56acd0" stroke-width="0.6"/>
<circle cx="196" cy="629.4" r="3.6" fill="#7ccbe6" stroke="#2f93bb" stroke-width="0.6"/>
<circle cx="196" cy="629.1999999999999" r="1.3" fill="#d8f0f8"/>
<text x="149.8" y="627.1" font-size="8.4" font-weight="bold" fill="#2a8ab2">mOSN</text>
<circle cx="189.8" cy="692.2" r="40.5" fill="url(#gB)" stroke="#6aaec6" stroke-width="0.8"/>
<circle cx="171.8" cy="693.4" r="13.9" fill="none" stroke="#5ccd96" stroke-width="1.3"/>
<circle cx="199.7" cy="673.2" r="13.4" fill="none" stroke="#d2d2d2" stroke-width="1.4"/>
<circle cx="202.2" cy="707.1" r="13.4" fill="none" stroke="#d2d2d2" stroke-width="1.4"/>
<path d="M172.2,685.8 C174.3,682.1 169.7,678.5 171.8,674.8" stroke="#333" stroke-width="0.5" fill="none"/>
<path d="M172.2,685.8 C173.2,681.7 178.9,682.2 180.0,678.0" stroke="#333" stroke-width="0.5" fill="none"/>
<path d="M163.8,693.4 C161.7,690.3 157.4,693.4 155.3,690.3" stroke="#333" stroke-width="0.5" fill="none"/>
<path d="M178.1,695.9 C181.1,699.0 185.8,695.7 188.7,698.7" stroke="#333" stroke-width="0.5" fill="none"/>
<path d="M178.1,695.9 C181.4,698.6 178.5,703.5 181.9,706.2" stroke="#333" stroke-width="0.5" fill="none"/>
<path d="M168.4,698.4 C164.0,697.3 161.2,702.6 156.8,701.5" stroke="#333" stroke-width="0.5" fill="none"/>
<path d="M161.8,678.5 L162.8,678.0 L164.8,679.0 L166.7,678.0 L168.7,679.0 L169.7,678.5" stroke="#1ca35e" stroke-width="0.9" fill="none"/>
<path d="M175.3,677.9 L176.2,677.5 L178.2,678.4 L180.1,677.5 L182.0,678.4 L182.9,677.9" stroke="#1ca35e" stroke-width="0.9" fill="none"/>
<path d="M159.5,685.1 L160.5,684.6 L162.5,685.6 L164.4,684.6 L166.4,685.6 L167.4,685.1" stroke="#1ca35e" stroke-width="0.9" fill="none"/>
<path d="M181.5,685.1 L182.4,684.6 L184.2,685.6 L186.1,684.6 L187.9,685.6 L188.8,685.1" stroke="#1ca35e" stroke-width="0.9" fill="none"/>
<path d="M155.3,689.7 L156.1,689.2 L157.8,690.2 L159.4,689.2 L161.0,690.2 L162.7,689.2 L163.5,689.7" stroke="#1ca35e" stroke-width="0.9" fill="none"/>
<path d="M168.1,702.2 L169.0,701.8 L170.9,702.7 L172.8,701.8 L174.7,702.7 L175.6,702.2" stroke="#1ca35e" stroke-width="0.9" fill="none"/>
<path d="M156.6,705.8 L157.4,705.4 L159.2,706.3 L160.8,705.4 L162.5,706.3 L164.2,705.4 L165.1,705.8" stroke="#1ca35e" stroke-width="0.9" fill="none"/>
<path d="M163.5,709.8 L164.3,709.4 L166.0,710.3 L167.6,709.4 L169.2,710.3 L170.9,709.4 L171.7,709.8" stroke="#1ca35e" stroke-width="0.9" fill="none"/>
<path d="M162.2,682.2 H169.7" stroke="#1ca35e" stroke-width="1.0"/>
<path d="M158.2,687.4 H166.4" stroke="#1ca35e" stroke-width="1.0"/>
<path d="M175.3,689.4 H183.5" stroke="#1ca35e" stroke-width="1.0"/>
<path d="M153.3,696.6 H161.8" stroke="#1ca35e" stroke-width="1.0"/>
<path d="M154.3,700.4 H162.8" stroke="#1ca35e" stroke-width="1.0"/>
<path d="M169.1,705.5 H176.9" stroke="#1ca35e" stroke-width="1.0"/>
<rect x="170.3" y="683.9" width="3.8" height="3.6" rx="1" fill="#ecc26a" stroke="#777" stroke-width="0.3"/>
<rect x="170.5" y="687.9" width="3.4" height="7.4" rx="1.6" fill="#e60012"/>
<circle cx="163.8" cy="693.4" r="2.2" fill="#e27272" stroke="#555" stroke-width="0.3"/>
<polygon points="165.8,695.8 165.8,701.0 171.0,698.4" fill="#19a05a"/>
<circle cx="178.1" cy="695.9" r="2.2" fill="#a04a55" stroke="#555" stroke-width="0.3"/>
<path d="M193.4,673.2 C190.1,669.7 184.5,672.3 181.2,668.8" stroke="#333" stroke-width="0.5" fill="none"/>
<path d="M193.4,673.2 C190.1,676.4 185.1,673.1 181.8,676.3" stroke="#333" stroke-width="0.5" fill="none"/>
<path d="M204.1,667.0 C207.3,663.7 204.0,658.7 207.2,655.4" stroke="#333" stroke-width="0.5" fill="none"/>
<path d="M204.1,667.0 C206.8,662.9 212.7,664.6 215.4,660.5" stroke="#333" stroke-width="0.5" fill="none"/>
<path d="M203.4,679.3 C207.4,682.1 212.3,678.3 216.3,681.1" stroke="#333" stroke-width="0.5" fill="none"/>
<path d="M203.4,679.3 C206.6,682.9 203.5,688.2 206.8,691.9" stroke="#333" stroke-width="0.5" fill="none"/>
<path d="M193.4,667.6 C192.4,663.5 186.7,664.0 185.6,659.8" stroke="#333" stroke-width="0.5" fill="none"/>
<path d="M197.7,661.2 C195.9,658.2 191.9,661.4 190.2,658.5" stroke="#333" stroke-width="0.5" fill="none"/>
<polygon points="191.1,665.3 195.7,665.3 193.4,669.9" fill="#1f6fc0"/>
<circle cx="204.1" cy="667.0" r="2.2" fill="#a0682e" stroke="#555" stroke-width="0.3"/>
<rect x="199.7" y="666.5" width="3.7" height="8" rx="1.5" fill="#e60012" transform="rotate(-50 201.5 670.5)"/>
<circle cx="193.4" cy="673.2" r="2.2" fill="#a0682e" stroke="#555" stroke-width="0.3"/>
<rect x="196.5" y="672.0" width="3.7" height="8" rx="1.5" fill="#e60012" transform="rotate(-50 198.4 676.0)"/>
<circle cx="203.4" cy="679.3" r="2.2" fill="#5f7a4e" stroke="#555" stroke-width="0.3"/>
<path d="M203.5,702.3 C204.7,698.2 199.5,695.8 200.7,691.7" stroke="#333" stroke-width="0.5" fill="none"/>
<path d="M203.5,702.3 C203.1,698.0 208.6,696.6 208.1,692.3" stroke="#333" stroke-width="0.5" fill="none"/>
<path d="M210.4,709.0 C214.4,708.9 214.6,703.4 218.6,703.3" stroke="#333" stroke-width="0.5" fill="none"/>
<path d="M210.4,709.0 C214.7,707.5 217.9,712.6 222.2,711.1" stroke="#333" stroke-width="0.5" fill="none"/>
<path d="M198.4,710.9 C193.9,710.2 191.6,715.7 187.1,715.0" stroke="#333" stroke-width="0.5" fill="none"/>
<path d="M194.0,707.1 C190.4,707.8 189.5,702.6 185.8,703.3" stroke="#333" stroke-width="0.5" fill="none"/>
<circle cx="203.5" cy="702.3" r="2.2" fill="#cdb6e2" stroke="#555" stroke-width="0.3"/>
<polygon points="196.5,704.6 196.5,709.6 191.5,707.1" fill="#f2a122"/>
<rect x="198.4" y="702.1" width="3.7" height="8" rx="1.5" fill="#e60012" transform="rotate(-50 200.3 706.1)"/>
<rect x="204.2" y="705.2" width="3.7" height="8" rx="1.5" fill="#e60012" transform="rotate(0 206.0 709.2)"/>
<circle cx="210.4" cy="709.0" r="2.2" fill="#f2a122" stroke="#555" stroke-width="0.3"/>
<circle cx="198.4" cy="710.9" r="2.2" fill="#5fb598" stroke="#555" stroke-width="0.3"/>
<path d="M181.0,697.0 c4,3 8,6 12,9" stroke="#333" stroke-width="0.55" fill="none"/>
<polygon points="392.0,633.8000000000001 409.0,633.8000000000001 434.7,669.0 401.8,693 367.8,670.6" fill="url(#cG)"/>
<path d="M385.5,630.2 C381.5,631.2 377.5,629.5 372.1,630.5 M416.5,629.8000000000001 C420.5,631.0 425.5,628.6 431.9,630.2" stroke="#5c9c6c" stroke-width="0.7" fill="none"/>
<path d="M385.5,630.2 C391.5,624.0 409.5,623.0 416.5,629.8000000000001 C409.5,635.2 391.5,635.4000000000001 385.5,630.2 Z" fill="#cdebd2" stroke="#80c190" stroke-width="0.6"/>
<circle cx="400.5" cy="629.2" r="3.8" fill="#92d3a3" stroke="#5fb477" stroke-width="0.5"/>
<circle cx="401.0" cy="628.9000000000001" r="1.5" fill="#bfe6c9"/>
<text x="361.5" y="627.2" font-size="8.4" font-weight="bold" fill="#22a04e">iOSN</text>
<circle cx="401.8" cy="693" r="40.7" fill="url(#gG)" stroke="#7fb98c" stroke-width="0.8"/>
<polygon points="525.8,633.4 537.8,633.4 560.6,671.9 525.7,692.5 496.3,664.7" fill="url(#cB)"/>
<path d="M482.4,636.9 C490.4,634.9 496.4,631.4 504.4,632.4 C514.4,633.4 519.8,629.9 526.8,628.9" stroke="#3d9cc0" stroke-width="0.8" fill="none"/>
<path d="M536.8,628.9 C543.8,631.9 549.8,629.9 555.8,628.4 C559.8,627.4 561,628.4 564,627.9" stroke="#3d9cc0" stroke-width="0.8" fill="none"/>
<path d="M564,627.9 L567,619.9" stroke="#3a5560" stroke-width="0.45"/>
<path d="M564,627.9 L569.5,622.4" stroke="#3a5560" stroke-width="0.45"/>
<path d="M564,627.9 L571,625.9" stroke="#3a5560" stroke-width="0.45"/>
<path d="M564,627.9 L571,629.4" stroke="#3a5560" stroke-width="0.45"/>
<path d="M564,627.9 L569.5,632.4" stroke="#3a5560" stroke-width="0.45"/>
<path d="M564,627.9 L567.5,634.4" stroke="#3a5560" stroke-width="0.45"/>
<path d="M564,627.9 L565.5,634.9" stroke="#3a5560" stroke-width="0.45"/>
<path d="M531.8,622.6 C534.8,624.3 539.8,626.3 539.8,629.9 C539.8,633.4 535.8,634.9 531.8,634.9 C527.8,634.9 523.8,633.4 523.8,629.9 C523.8,626.3 528.8,624.3 531.8,622.6 Z" fill="#bfe4f1" stroke="#56acd0" stroke-width="0.6"/>
<circle cx="531.8" cy="629.4" r="3.6" fill="#7ccbe6" stroke="#2f93bb" stroke-width="0.6"/>
<circle cx="531.8" cy="629.1999999999999" r="1.3" fill="#d8f0f8"/>
<text x="485.2" y="627.1" font-size="8.4" font-weight="bold" fill="#2a8ab2">mOSN</text>
<circle cx="525.7" cy="692.5" r="40.5" fill="url(#gB)" stroke="#6aaec6" stroke-width="0.8"/>
<path d="M396.4,673.5 C392.2,670.7 388.1,676.3 383.9,673.5" stroke="#333" stroke-width="0.5" fill="none"/>
<path d="M396.4,673.5 C391.5,671.4 393.4,664.4 388.5,662.2" stroke="#333" stroke-width="0.5" fill="none"/>
<path d="M413.0,672.8 C415.4,668.0 409.4,663.9 411.8,659.1" stroke="#333" stroke-width="0.5" fill="none"/>
<path d="M413.0,672.8 C415.6,668.1 422.3,670.6 424.9,665.9" stroke="#333" stroke-width="0.5" fill="none"/>
<path d="M380.3,682.6 C381.1,676.6 374.0,673.4 374.7,667.3" stroke="#333" stroke-width="0.5" fill="none"/>
<path d="M380.3,682.6 C375.0,683.7 372.6,676.8 367.4,677.9" stroke="#333" stroke-width="0.5" fill="none"/>
<path d="M422.4,684.5 C426.7,687.7 431.8,682.5 436.1,685.7" stroke="#333" stroke-width="0.5" fill="none"/>
<path d="M422.4,684.5 C427.1,687.1 424.6,693.8 429.3,696.4" stroke="#333" stroke-width="0.5" fill="none"/>
<path d="M374.7,697.5 C373.6,693.6 368.2,697.0 367.1,693.1" stroke="#333" stroke-width="0.5" fill="none"/>
<path d="M374.7,697.5 C378.4,697.0 376.7,702.9 380.4,702.3" stroke="#333" stroke-width="0.5" fill="none"/>
<path d="M414.0,697.5 C411.5,692.3 404.2,694.1 401.7,688.9" stroke="#333" stroke-width="0.5" fill="none"/>
<path d="M414.0,697.5 C411.0,701.6 405.2,697.7 402.3,701.8" stroke="#333" stroke-width="0.5" fill="none"/>
<path d="M388.9,704.0 C393.3,707.6 399.2,703.0 403.7,706.6" stroke="#333" stroke-width="0.5" fill="none"/>
<path d="M388.9,704.0 C390.6,710.2 384.1,715.0 385.9,721.2" stroke="#333" stroke-width="0.5" fill="none"/>
<path d="M418.0,712.8 C422.7,712.5 421.9,705.8 426.6,705.6" stroke="#333" stroke-width="0.5" fill="none"/>
<path d="M418.0,712.8 C424.0,712.0 427.2,719.1 433.3,718.4" stroke="#333" stroke-width="0.5" fill="none"/>
<path d="M402.3,725.1 C403.2,719.4 396.2,716.7 397.2,711.0" stroke="#333" stroke-width="0.5" fill="none"/>
<path d="M402.3,725.1 C401.4,719.4 408.4,716.7 407.4,711.0" stroke="#333" stroke-width="0.5" fill="none"/>
<path d="M379.1,702.5 C376.5,700.0 372.8,703.4 370.2,700.9" stroke="#333" stroke-width="0.5" fill="none"/>
<polygon points="394.4,665.3 399.0,665.3 396.7,669.9" fill="#1f6fc0"/>
<path d="M397.9,664.8 L398.8,664.3 L400.5,665.3 L402.2,664.3 L403.9,665.3 L404.8,664.8" stroke="#1f6fc0" stroke-width="0.8" fill="none"/>
<path d="M402.3,673.0 H408.0" stroke="#1f6fc0" stroke-width="0.9"/>
<path d="M404.8,687.0 L405.6,686.5 L407.3,687.5 L408.9,686.5 L410.5,687.5 L412.2,686.5 L413.0,687.0" stroke="#f2a122" stroke-width="0.8" fill="none"/>
<path d="M370.9,692.1 L371.7,691.6 L373.4,692.6 L375.0,691.6 L376.6,692.6 L378.3,691.6 L379.1,692.1" stroke="#19a05a" stroke-width="0.8" fill="none"/>
<polygon points="411.7,690.8 411.7,695.8 406.7,693.3" fill="#f2a122"/>
<path d="M382.2,698.0 L383.1,697.5 L385.1,698.5 L386.9,697.5 L388.9,698.5 L389.8,698.0" stroke="#19a05a" stroke-width="0.8" fill="none"/>
<path d="M400.4,697.7 L401.4,697.2 L403.2,698.2 L405.2,697.2 L407.1,698.2 L408.0,697.7" stroke="#f2a122" stroke-width="0.8" fill="none"/>
<polygon points="376.5,699.9 376.5,705.1 381.7,702.5" fill="#19a05a"/>
<circle cx="396.4" cy="673.5" r="2.2" fill="#a0682e" stroke="#555" stroke-width="0.3"/>
<circle cx="413.0" cy="672.8" r="2.2" fill="#b8621e" stroke="#555" stroke-width="0.3"/>
<circle cx="380.3" cy="682.6" r="2.2" fill="#ecc26a" stroke="#555" stroke-width="0.3"/>
<circle cx="422.4" cy="684.5" r="2.2" fill="#5f7a4e" stroke="#555" stroke-width="0.3"/>
<circle cx="374.7" cy="697.5" r="2.2" fill="#e27272" stroke="#555" stroke-width="0.3"/>
<circle cx="414.0" cy="697.5" r="2.2" fill="#5fb598" stroke="#555" stroke-width="0.3"/>
<circle cx="388.9" cy="704.0" r="2.2" fill="#a04a55" stroke="#555" stroke-width="0.3"/>
<circle cx="418.0" cy="712.8" r="2.2" fill="#f2a122" stroke="#555" stroke-width="0.3"/>
<circle cx="402.3" cy="725.1" r="2.2" fill="#cdb6e2" stroke="#555" stroke-width="0.3"/>
<path d="M519.8,672.0 C515.6,669.2 511.5,674.8 507.3,672.0" stroke="#333" stroke-width="0.5" fill="none"/>
<path d="M519.8,672.0 C514.9,669.9 516.8,662.9 511.9,660.7" stroke="#333" stroke-width="0.5" fill="none"/>
<path d="M536.4,671.1 C538.8,666.3 532.8,662.2 535.2,657.4" stroke="#333" stroke-width="0.5" fill="none"/>
<path d="M536.4,671.1 C539.0,666.4 545.7,668.9 548.3,664.2" stroke="#333" stroke-width="0.5" fill="none"/>
<path d="M507.5,683.9 C508.3,677.9 501.2,674.7 501.9,668.6" stroke="#333" stroke-width="0.5" fill="none"/>
<path d="M507.5,683.9 C502.2,685.0 499.8,678.1 494.6,679.2" stroke="#333" stroke-width="0.5" fill="none"/>
<path d="M545.8,682.9 C550.1,686.1 555.2,680.9 559.5,684.1" stroke="#333" stroke-width="0.5" fill="none"/>
<path d="M545.8,682.9 C550.5,685.5 548.0,692.2 552.7,694.8" stroke="#333" stroke-width="0.5" fill="none"/>
<path d="M497.8,695.8 C496.7,691.9 491.3,695.3 490.2,691.4" stroke="#333" stroke-width="0.5" fill="none"/>
<path d="M497.8,695.8 C501.5,695.3 499.8,701.2 503.5,700.6" stroke="#333" stroke-width="0.5" fill="none"/>
<path d="M537.6,695.4 C535.1,690.2 527.8,692.0 525.3,686.8" stroke="#333" stroke-width="0.5" fill="none"/>
<path d="M537.6,695.4 C534.6,699.5 528.8,695.6 525.9,699.7" stroke="#333" stroke-width="0.5" fill="none"/>
<path d="M511.9,701.7 C516.3,705.3 522.2,700.7 526.7,704.3" stroke="#333" stroke-width="0.5" fill="none"/>
<path d="M511.9,701.7 C513.6,707.9 507.1,712.7 508.9,718.9" stroke="#333" stroke-width="0.5" fill="none"/>
<path d="M541.4,711.3 C546.1,711.0 545.3,704.3 550.0,704.1" stroke="#333" stroke-width="0.5" fill="none"/>
<path d="M541.4,711.3 C547.4,710.5 550.6,717.6 556.7,716.9" stroke="#333" stroke-width="0.5" fill="none"/>
<path d="M525.7,722.8 C526.6,717.1 519.6,714.4 520.6,708.7" stroke="#333" stroke-width="0.5" fill="none"/>
<path d="M525.7,722.8 C524.8,717.1 531.8,714.4 530.8,708.7" stroke="#333" stroke-width="0.5" fill="none"/>
<path d="M502.5,700.8 C499.9,698.3 496.2,701.7 493.6,699.2" stroke="#333" stroke-width="0.5" fill="none"/>
<polygon points="517.7,663.8 522.3,663.8 520.0,668.4" fill="#1f6fc0"/>
<path d="M520.7,663.2 H527.6" stroke="#1f6fc0" stroke-width="0.9"/>
<path d="M525.0,671.3 H530.7" stroke="#1f6fc0" stroke-width="0.9"/>
<path d="M520.7,678.6 H527.0" stroke="#1f6fc0" stroke-width="0.9"/>
<path d="M528.2,685.2 L529.0,684.7 L530.7,685.7 L532.3,684.7 L533.9,685.7 L535.6,684.7 L536.4,685.2" stroke="#f2a122" stroke-width="0.8" fill="none"/>
<path d="M494.3,690.4 H502.5" stroke="#19a05a" stroke-width="0.9"/>
<polygon points="535.1,688.9 535.1,693.9 530.1,691.4" fill="#f2a122"/>
<path d="M505.6,696.5 H513.8" stroke="#19a05a" stroke-width="0.9"/>
<path d="M523.8,696.2 L524.7,695.7 L526.6,696.7 L528.5,695.7 L530.4,696.7 L531.3,696.2" stroke="#f2a122" stroke-width="0.8" fill="none"/>
<polygon points="499.9,698.2 499.9,703.4 505.1,700.8" fill="#19a05a"/>
<path d="M532.6,702.5 L533.5,702.0 L535.4,703.0 L537.3,702.0 L539.2,703.0 L540.1,702.5" stroke="#f2a122" stroke-width="0.8" fill="none"/>
<path d="M500.6,709.3 H508.1" stroke="#19a05a" stroke-width="0.9"/>
<circle cx="519.8" cy="672.0" r="2.2" fill="#a0682e" stroke="#555" stroke-width="0.3"/>
<circle cx="536.4" cy="671.1" r="2.2" fill="#b8621e" stroke="#555" stroke-width="0.3"/>
<circle cx="507.5" cy="683.9" r="2.2" fill="#ecc26a" stroke="#555" stroke-width="0.3"/>
<circle cx="545.8" cy="682.9" r="2.2" fill="#5f7a4e" stroke="#555" stroke-width="0.3"/>
<circle cx="497.8" cy="695.8" r="2.2" fill="#e27272" stroke="#555" stroke-width="0.3"/>
<circle cx="537.6" cy="695.4" r="2.2" fill="#5fb598" stroke="#555" stroke-width="0.3"/>
<circle cx="511.9" cy="701.7" r="2.2" fill="#a04a55" stroke="#555" stroke-width="0.3"/>
<circle cx="541.4" cy="711.3" r="2.2" fill="#f2a122" stroke="#555" stroke-width="0.3"/>
<circle cx="525.7" cy="722.8" r="2.2" fill="#cdb6e2" stroke="#555" stroke-width="0.3"/>
<polygon points="122,681.3 131.8,681.3 131.8,678.1999999999999 141.6,684.9 131.8,691.6 131.8,688.5 122,688.5" fill="#e0cf5c"/>
<polygon points="248.6,681.1999999999999 258.4,681.1999999999999 258.4,678.0999999999999 268.2,684.8 258.4,691.5 258.4,688.4 248.6,688.4" fill="#e0cf5c"/>
<polygon points="456,681.9 465.8,681.9 465.8,678.8 475.6,685.5 465.8,692.2 465.8,689.1 456,689.1" fill="#e0cf5c"/>
<polygon points="583,682.6999999999999 592.8,682.6999999999999 592.8,679.5999999999999 602.6,686.3 592.8,693.0 592.8,689.9 583,689.9" fill="#e0cf5c"/>
<rect x="23.1" y="735.5" width="88.2" height="19.3" fill="none" stroke="#777" stroke-width="0.6" stroke-dasharray="1,0.8"/>
<text x="25.6" y="742.9" font-size="7.7" fill="#222" textLength="83.8" lengthAdjust="spacingAndGlyphs">Multiple <tspan font-style="italic">ORs</tspan> Transcription</text>
<rect x="148.8" y="735.3" width="87.0" height="19.3" fill="none" stroke="#777" stroke-width="0.6" stroke-dasharray="1,0.8"/>
<text x="151.4" y="742.9" font-size="7.7" fill="#222" textLength="81.4" lengthAdjust="spacingAndGlyphs">Singular <tspan font-style="italic">OR</tspan> Transcription</text>
<rect x="358.1" y="735.9" width="87.6" height="18.4" fill="none" stroke="#777" stroke-width="0.6" stroke-dasharray="1,0.8"/>
<text x="359.8" y="742.9" font-size="7.7" fill="#222" textLength="83.7" lengthAdjust="spacingAndGlyphs">Multiple <tspan font-style="italic">ORs</tspan> Transcription</text>
<rect x="482.4" y="734.9" width="89.0" height="19.5" fill="none" stroke="#777" stroke-width="0.6" stroke-dasharray="1,0.8"/>
<text x="484.5" y="742.9" font-size="7.7" fill="#e8141e" textLength="83.7" lengthAdjust="spacingAndGlyphs">Multiple <tspan font-style="italic">ORs</tspan> Transcription</text>
<path d="M33.3,747.5 L34.3,747.2 L36.2,747.8 L38.1,747.2 L39.1,747.5" stroke="#19a05a" stroke-width="0.8" fill="none"/>
<path d="M33.3,750.9 L34.3,750.6 L36.2,751.2 L38.1,750.6 L39.1,750.9" stroke="#19a05a" stroke-width="0.8" fill="none"/>
<path d="M43.9,747.5 L44.9,747.2 L46.8,747.8 L48.7,747.2 L49.7,747.5" stroke="#19a05a" stroke-width="0.8" fill="none"/>
<path d="M43.9,750.9 L44.9,750.6 L46.8,751.2 L48.7,750.6 L49.7,750.9" stroke="#19a05a" stroke-width="0.8" fill="none"/>
<path d="M53.5,747.5 L54.5,747.2 L56.6,747.8 L58.7,747.2 L59.7,747.5" stroke="#19a05a" stroke-width="0.8" fill="none"/>
<path d="M53.5,750.9 L54.5,750.6 L56.6,751.2 L58.7,750.6 L59.7,750.9" stroke="#19a05a" stroke-width="0.8" fill="none"/>
<path d="M65.1,747.5 L66.1,747.2 L68.0,747.8 L69.9,747.2 L70.9,747.5" stroke="#1f6fc0" stroke-width="0.8" fill="none"/>
<path d="M65.1,750.9 L66.1,750.6 L68.0,751.2 L69.9,750.6 L70.9,750.9" stroke="#1f6fc0" stroke-width="0.8" fill="none"/>
<path d="M75.1,747.5 L75.9,747.2 L77.5,747.8 L79.1,747.2 L80.7,747.8 L81.5,747.5" stroke="#1f6fc0" stroke-width="0.8" fill="none"/>
<path d="M75.1,750.9 L75.9,750.6 L77.5,751.2 L79.1,750.6 L80.7,751.2 L81.5,750.9" stroke="#1f6fc0" stroke-width="0.8" fill="none"/>
<path d="M86.3,747.5 L87.3,747.2 L89.2,747.8 L91.1,747.2 L92.1,747.5" stroke="#f2a122" stroke-width="0.8" fill="none"/>
<path d="M86.3,750.9 L87.3,750.6 L89.2,751.2 L91.1,750.6 L92.1,750.9" stroke="#f2a122" stroke-width="0.8" fill="none"/>
<path d="M95.5,747.5 L96.5,747.2 L98.6,747.8 L100.7,747.2 L101.7,747.5" stroke="#f2a122" stroke-width="0.8" fill="none"/>
<path d="M95.5,750.9 L96.5,750.6 L98.6,751.2 L100.7,750.6 L101.7,750.9" stroke="#f2a122" stroke-width="0.8" fill="none"/>
<path d="M157.8,747.5 L158.8,747.2 L160.8,747.8 L162.8,747.2 L163.8,747.5" stroke="#19a05a" stroke-width="0.8" fill="none"/>
<path d="M157.8,750.9 L158.8,750.6 L160.8,751.2 L162.8,750.6 L163.8,750.9" stroke="#19a05a" stroke-width="0.8" fill="none"/>
<path d="M167.7,747.5 L168.7,747.2 L170.7,747.8 L172.7,747.2 L173.7,747.5" stroke="#19a05a" stroke-width="0.8" fill="none"/>
<path d="M167.7,750.9 L168.7,750.6 L170.7,751.2 L172.7,750.6 L173.7,750.9" stroke="#19a05a" stroke-width="0.8" fill="none"/>
<path d="M177.7,747.5 L178.8,747.2 L180.8,747.8 L182.9,747.2 L184.0,747.5" stroke="#19a05a" stroke-width="0.8" fill="none"/>
<path d="M177.7,750.9 L178.8,750.6 L180.8,751.2 L182.9,750.6 L184.0,750.9" stroke="#19a05a" stroke-width="0.8" fill="none"/>
<path d="M188.6,747.5 L189.6,747.2 L191.6,747.8 L193.6,747.2 L194.6,747.5" stroke="#19a05a" stroke-width="0.8" fill="none"/>
<path d="M188.6,750.9 L189.6,750.6 L191.6,751.2 L193.6,750.6 L194.6,750.9" stroke="#19a05a" stroke-width="0.8" fill="none"/>
<path d="M199.2,747.5 L200.2,747.2 L202.2,747.8 L204.2,747.2 L205.2,747.5" stroke="#19a05a" stroke-width="0.8" fill="none"/>
<path d="M199.2,750.9 L200.2,750.6 L202.2,751.2 L204.2,750.6 L205.2,750.9" stroke="#19a05a" stroke-width="0.8" fill="none"/>
<path d="M210.5,747.5 L211.5,747.2 L213.5,747.8 L215.5,747.2 L216.5,747.5" stroke="#19a05a" stroke-width="0.8" fill="none"/>
<path d="M210.5,750.9 L211.5,750.6 L213.5,751.2 L215.5,750.6 L216.5,750.9" stroke="#19a05a" stroke-width="0.8" fill="none"/>
<path d="M219.9,747.5 L220.9,747.2 L222.9,747.8 L224.9,747.2 L225.9,747.5" stroke="#19a05a" stroke-width="0.8" fill="none"/>
<path d="M219.9,750.9 L220.9,750.6 L222.9,751.2 L224.9,750.6 L225.9,750.9" stroke="#19a05a" stroke-width="0.8" fill="none"/>
<path d="M367.9,747.5 L368.8,747.2 L370.8,747.8 L372.7,747.2 L373.6,747.5" stroke="#19a05a" stroke-width="0.8" fill="none"/>
<path d="M367.9,750.9 L368.8,750.6 L370.8,751.2 L372.7,750.6 L373.6,750.9" stroke="#19a05a" stroke-width="0.8" fill="none"/>
<path d="M377.8,747.5 L378.9,747.2 L381.0,747.8 L383.1,747.2 L384.2,747.5" stroke="#19a05a" stroke-width="0.8" fill="none"/>
<path d="M377.8,750.9 L378.9,750.6 L381.0,751.2 L383.1,750.6 L384.2,750.9" stroke="#19a05a" stroke-width="0.8" fill="none"/>
<path d="M388.0,747.5 L389.0,747.2 L391.1,747.8 L393.2,747.2 L394.2,747.5" stroke="#19a05a" stroke-width="0.8" fill="none"/>
<path d="M388.0,750.9 L389.0,750.6 L391.1,751.2 L393.2,750.6 L394.2,750.9" stroke="#19a05a" stroke-width="0.8" fill="none"/>
<path d="M399.7,747.5 L400.6,747.2 L402.5,747.8 L404.4,747.2 L405.4,747.5" stroke="#1f6fc0" stroke-width="0.8" fill="none"/>
<path d="M399.7,750.9 L400.6,750.6 L402.5,751.2 L404.4,750.6 L405.4,750.9" stroke="#1f6fc0" stroke-width="0.8" fill="none"/>
<path d="M409.6,747.5 L410.7,747.2 L412.8,747.8 L414.9,747.2 L416.0,747.5" stroke="#1f6fc0" stroke-width="0.8" fill="none"/>
<path d="M409.6,750.9 L410.7,750.6 L412.8,751.2 L414.9,750.6 L416.0,750.9" stroke="#1f6fc0" stroke-width="0.8" fill="none"/>
<path d="M420.9,747.5 L421.8,747.2 L423.8,747.8 L425.7,747.2 L426.6,747.5" stroke="#f2a122" stroke-width="0.8" fill="none"/>
<path d="M420.9,750.9 L421.8,750.6 L423.8,751.2 L425.7,750.6 L426.6,750.9" stroke="#f2a122" stroke-width="0.8" fill="none"/>
<path d="M430.8,747.5 L431.8,747.2 L433.6,747.8 L435.6,747.2 L436.5,747.5" stroke="#f2a122" stroke-width="0.8" fill="none"/>
<path d="M430.8,750.9 L431.8,750.6 L433.6,751.2 L435.6,750.6 L436.5,750.9" stroke="#f2a122" stroke-width="0.8" fill="none"/>
<path d="M492.0,747.5 L493.0,747.2 L494.9,747.8 L496.9,747.2 L497.9,747.5" stroke="#19a05a" stroke-width="0.8" fill="none"/>
<path d="M492.0,750.9 L493.0,750.6 L494.9,751.2 L496.9,750.6 L497.9,750.9" stroke="#19a05a" stroke-width="0.8" fill="none"/>
<path d="M502.1,747.5 L503.1,747.2 L505.0,747.8 L506.9,747.2 L507.8,747.5" stroke="#19a05a" stroke-width="0.8" fill="none"/>
<path d="M502.1,750.9 L503.1,750.6 L505.0,751.2 L506.9,750.6 L507.8,750.9" stroke="#19a05a" stroke-width="0.8" fill="none"/>
<path d="M512.1,747.5 L513.1,747.2 L515.2,747.8 L517.4,747.2 L518.4,747.5" stroke="#19a05a" stroke-width="0.8" fill="none"/>
<path d="M512.1,750.9 L513.1,750.6 L515.2,751.2 L517.4,750.6 L518.4,750.9" stroke="#19a05a" stroke-width="0.8" fill="none"/>
<path d="M523.3,747.5 L524.2,747.2 L526.1,747.8 L528.0,747.2 L529.0,747.5" stroke="#1f6fc0" stroke-width="0.8" fill="none"/>
<path d="M523.3,750.9 L524.2,750.6 L526.1,751.2 L528.0,750.6 L529.0,750.9" stroke="#1f6fc0" stroke-width="0.8" fill="none"/>
<path d="M533.9,747.5 L534.9,747.2 L536.8,747.8 L538.6,747.2 L539.6,747.5" stroke="#1f6fc0" stroke-width="0.8" fill="none"/>
<path d="M533.9,750.9 L534.9,750.6 L536.8,751.2 L538.6,750.6 L539.6,750.9" stroke="#1f6fc0" stroke-width="0.8" fill="none"/>
<path d="M544.9,747.5 L545.9,747.2 L547.9,747.8 L549.9,747.2 L550.9,747.5" stroke="#f2a122" stroke-width="0.8" fill="none"/>
<path d="M544.9,750.9 L545.9,750.6 L547.9,751.2 L549.9,750.6 L550.9,750.9" stroke="#f2a122" stroke-width="0.8" fill="none"/>
<path d="M554.5,747.5 L555.5,747.2 L557.4,747.8 L559.2,747.2 L560.2,747.5" stroke="#f2a122" stroke-width="0.8" fill="none"/>
<path d="M554.5,750.9 L555.5,750.6 L557.4,751.2 L559.2,750.6 L560.2,750.9" stroke="#f2a122" stroke-width="0.8" fill="none"/>
<g fill="#222">
<text x="274.9" y="625.2" font-size="8.6">Olfactory Behavior</text>
<text x="310" y="664.3" font-size="7.2" text-anchor="middle">Odor detection</text>
<text x="310.1" y="681.6" font-size="7.2" font-weight="bold" text-anchor="middle">Normal</text>
<text x="309.9" y="706.3" font-size="7.2" text-anchor="middle">Odor discrimination</text>
<text x="310.1" y="723" font-size="7.2" font-weight="bold" text-anchor="middle">Normal</text>
<text x="644.9" y="625.8" font-size="8.6" text-anchor="middle">Olfactory Behavior</text>
<text x="645" y="664.4" font-size="7.2" text-anchor="middle">Odor detection</text>
<text x="645.3" y="706.5" font-size="7.2" text-anchor="middle">Odor discrimination</text>
</g>
<path d="M645.4,670.9 V680.9" stroke="#e60012" stroke-width="1.6"/><polygon points="642.0,679.9 648.8,679.9 645.4,686.9" fill="#e60012"/>
<path d="M645.4,711.7 V721.7" stroke="#e60012" stroke-width="1.6"/><polygon points="642.0,720.7 648.8,720.7 645.4,727.7" fill="#e60012"/>
<circle cx="59" cy="770.5" r="7.3" fill="none" stroke="#9a9a9a" stroke-width="1"/>
<circle cx="216.7" cy="770.5" r="7.3" fill="none" stroke="#3dbb7a" stroke-width="1"/>
<rect x="345.8" y="765" width="6" height="10.5" rx="1.8" fill="#e60012"/>
<polygon points="409.6,768.1 416.2,771.4 409.6,774.7" fill="#e33a62"/><polygon points="417,768.1 423.6,771.4 417,774.7" fill="#9c3fc4"/>
<circle cx="494.4" cy="770.9" r="2.7" fill="#7b3f8e"/><circle cx="501" cy="770.9" r="2.7" fill="#3d9a8b"/>
<path d="M575.8,766.6 L576.6,766.1 L578.3,767.1 L579.9,766.1 L581.6,767.1 L583.2,766.1 L584.9,767.1 L586.6,766.1 L588.2,767.1 L589.9,766.1 L590.7,766.6" stroke="#e0245a" stroke-width="0.8" fill="none"/>
<path d="M575.8,769.6 L576.6,769.1 L578.3,770.1 L579.9,769.1 L581.6,770.1 L583.2,769.1 L584.9,770.1 L586.6,769.1 L588.2,770.1 L589.9,769.1 L590.7,769.6" stroke="#7a4ec0" stroke-width="0.8" fill="none"/>
<path d="M575.8,772.6 L576.6,772.1 L578.3,773.1 L579.9,772.1 L581.6,773.1 L583.2,772.1 L584.9,773.1 L586.6,772.1 L588.2,773.1 L589.9,772.1 L590.7,772.6" stroke="#2aa08a" stroke-width="0.8" fill="none"/>
<g font-size="10" fill="#222">
<text x="69.2" y="773.6">Repressed enhancer hubs</text>
<text x="226.9" y="773.6">Actived enahncer hub</text>
<text x="354.5" y="775">TRIM66</text>
<text x="426.2" y="775"><tspan font-style="italic">OR</tspan> genes</text>
<text x="507.5" y="774.4">Enhancers</text>
<text x="593.1" y="774.4">OR mRNAs</text>
</g>
</g>
</svg>
</body></html>
